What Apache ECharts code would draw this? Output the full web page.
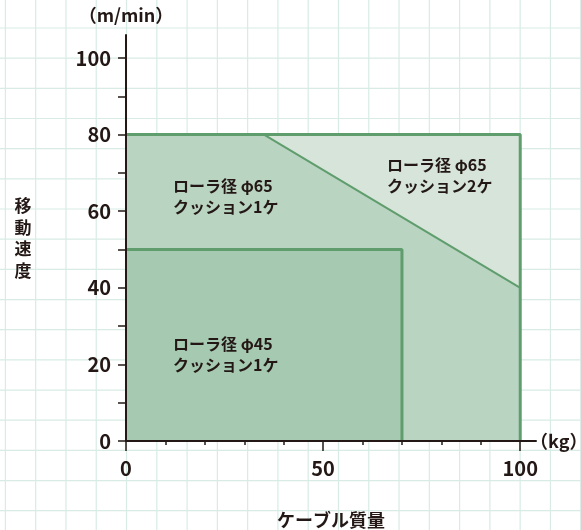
<!DOCTYPE html>
<html>
<head>
<meta charset="utf-8">
<script src="https://cdn.jsdelivr.net/npm/echarts@6/dist/echarts.min.js"></script>
<style>
html, body { margin: 0; padding: 0; background: #fff; }
#main { width: 581px; height: 530px; }
</style>
</head>
<body>
<div id="main"></div>
<script>
// 目盛り
var xTicks = [0, 10, 20, 30, 40, 50, 60, 70, 80, 90, 100];
var xLabels = [0, 50, 100];
var yTicks = [0, 10, 20, 30, 40, 50, 60, 70, 80, 90, 100];
var yLabels = [0, 20, 40, 60, 80, 100];

// 領域 [ケーブル質量(kg), 移動速度(m/min)]
var area65Cushion2 = [[0, 80], [100, 80], [100, 0]];
var area65Cushion1 = [[0, 80], [35, 80], [100, 40]];
var area45Cushion1 = [[0, 50], [70, 50], [70, 0]];

var areaNames = ['ローラ径 φ65\nクッション2ケ', 'ローラ径 φ65\nクッション1ケ', 'ローラ径 φ45\nクッション1ケ'];

var TEXT = '#231815';
var LINE = '#5f9d6d';
var FONT = '"Noto Sans CJK JP", "Noto Sans", sans-serif';

var chart = echarts.init(document.getElementById('main'), null, { renderer: 'canvas' });

// 背景の方眼
var bg = [];
for (var gx = 5.4; gx < 581; gx += 30.28) {
	bg.push({ type: 'line', z: -10, silent: true,
		shape: { x1: gx, y1: 0, x2: gx, y2: 530 },
		style: { stroke: '#d8ebe4', lineWidth: 1.2 } });
}
for (var gy = 28; gy < 530; gy += 30.17) {
	bg.push({ type: 'line', z: -10, silent: true,
		shape: { x1: 0, y1: gy, x2: 581, y2: gy },
		style: { stroke: '#d8ebe4', lineWidth: 1.2 } });
}

function label(text, x, y, size, lh, align){
	return { type: 'text', z: 100, silent: true, x: x, y: y,
		style: { text: text, fill: TEXT, fontSize: size, fontWeight: 'bold',
			fontFamily: FONT, lineHeight: lh, align: align, verticalAlign: 'middle' } };
}
bg.push(label(areaNames[0], 387, 175.5, 16, 21, 'left'));
bg.push(label(areaNames[1], 173, 196, 16, 21, 'left'));
bg.push(label(areaNames[2], 173, 354.5, 16, 21, 'left'));
bg.push(label('移\n動\n速\n度', 23, 238, 17, 21.5, 'center'));

function fill(data, color){
	return { type: 'line', data: data, symbol: 'none', z: 2, silent: true,
		lineStyle: { width: 0 }, areaStyle: { color: color, opacity: 1 } };
}
function outline(data, w){
	return { type: 'line', data: data, symbol: 'none', z: 3, silent: true,
		lineStyle: { color: LINE, width: w } };
}

var axisText = { color: TEXT, fontSize: 20, fontWeight: 'bold', fontFamily: FONT };

var option = {
	animation: false,
	backgroundColor: '#ffffff',
	graphic: { elements: bg },
	grid: { left: 126, right: 45, top: 35, bottom: 89, containLabel: false, outerBoundsMode: 'none' },
	xAxis: [{
		type: 'value', min: 0, max: 104, position: 'bottom', z: 10,
		axisLine: { lineStyle: { color: TEXT, width: 2 } },
		axisTick: { customValues: xTicks, length: 4, lineStyle: { color: TEXT, width: 1.5 } },
		axisLabel: { show: false },
		splitLine: { show: false },
		name: '（kg）', nameLocation: 'end', nameGap: -6,
		nameTextStyle: { color: TEXT, fontSize: 18, fontWeight: 'bold', fontFamily: FONT, align: 'left', verticalAlign: 'middle' }
	}, {
		type: 'value', min: 0, max: 104, position: 'bottom', z: 10,
		axisLine: { show: false },
		axisTick: { customValues: xLabels, length: 10, lineStyle: { color: TEXT, width: 1.5 } },
		axisLabel: Object.assign({ customValues: xLabels, margin: 17 }, axisText),
		splitLine: { show: false },
		name: 'ケーブル質量', nameLocation: 'middle', nameGap: 70,
		nameTextStyle: { color: TEXT, fontSize: 18, fontWeight: 'bold', fontFamily: FONT }
	}],
	yAxis: {
		type: 'value', min: 0, max: 106, z: 10,
		axisLine: { lineStyle: { color: TEXT, width: 2 } },
		axisTick: { customValues: yTicks, length: 8, lineStyle: { color: TEXT, width: 1.5 } },
		axisLabel: Object.assign({ customValues: yLabels, margin: 15 }, axisText),
		splitLine: { show: false },
		name: '（m/min）', nameLocation: 'end', nameGap: 11,
		nameTextStyle: { color: TEXT, fontSize: 18, fontWeight: 'bold', fontFamily: FONT, align: 'center' }
	},
	series: [
		fill(area65Cushion2, '#d6e4d9'),
		fill(area65Cushion1, '#bad4c2'),
		fill(area45Cushion1, '#a6c9b1'),
		outline(area65Cushion2, 3),
		outline(area65Cushion1, 2),
		outline(area45Cushion1, 3)
	]
};
chart.setOption(option);
</script>
</body>
</html>
